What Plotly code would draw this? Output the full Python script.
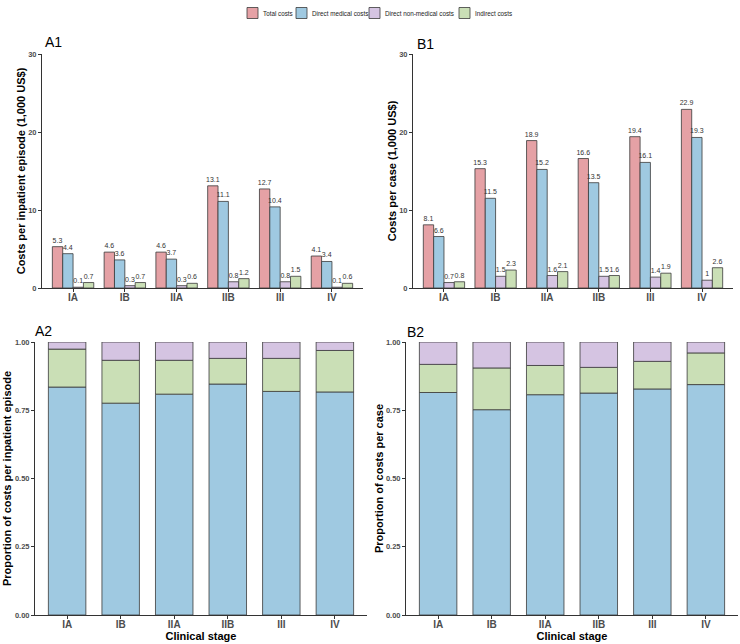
import plotly.graph_objects as go
import numpy as np

# ---------------- data ----------------
stages = ["IA", "IB", "IIA", "IIB", "III", "IV"]
cost_types = ["Total costs", "Direct medical costs", "Direct non-medical costs", "Indirect costs"]

# A1: costs per inpatient episode (1,000 US$)
ep_total = [5.3, 4.6, 4.6, 13.1, 12.7, 4.1]
ep_medical = [4.4, 3.6, 3.7, 11.1, 10.4, 3.4]
ep_nonmedical = [0.1, 0.3, 0.3, 0.8, 0.8, 0.1]
ep_indirect = [0.7, 0.7, 0.6, 1.2, 1.5, 0.6]

# B1: costs per case (1,000 US$)
case_total = [8.1, 15.3, 18.9, 16.6, 19.4, 22.9]
case_medical = [6.6, 11.5, 15.2, 13.5, 16.1, 19.3]
case_nonmedical = [0.7, 1.5, 1.6, 1.5, 1.4, 1.0]
case_indirect = [0.8, 2.3, 2.1, 1.6, 1.9, 2.6]

# A2: proportion of costs per inpatient episode
prop_ep_medical = [0.835, 0.776, 0.809, 0.846, 0.819, 0.817]
prop_ep_indirect = [0.139, 0.157, 0.124, 0.094, 0.121, 0.152]
prop_ep_nonmedical = [0.026, 0.067, 0.067, 0.060, 0.060, 0.031]

# B2: proportion of costs per case
prop_case_medical = [0.815, 0.752, 0.807, 0.813, 0.828, 0.844]
prop_case_indirect = [0.103, 0.153, 0.107, 0.094, 0.101, 0.116]
prop_case_nonmedical = [0.082, 0.095, 0.086, 0.093, 0.071, 0.040]

# ---------------- style ----------------
colors = {
    "Total costs": "#E5A1A5",
    "Direct medical costs": "#9FC9E1",
    "Direct non-medical costs": "#D5C4E2",
    "Indirect costs": "#CADFB6",
}
W, H = 740, 644
FONT = "Liberation Sans, Arial, sans-serif"
LINE = dict(color="#3a3a3a", width=0.8)


def fx(p):
    return p / W


def fy(p):
    return 1 - p / H


fig = go.Figure()

# grouped bars (A1, B1)
bar_w = 0.2
for xa, ya, series in [
    ("x", "y", [ep_total, ep_medical, ep_nonmedical, ep_indirect]),
    ("x2", "y2", [case_total, case_medical, case_nonmedical, case_indirect]),
]:
    for k, (name, vals) in enumerate(zip(cost_types, series)):
        fig.add_trace(go.Bar(
            x=stages, y=vals, name=name, xaxis=xa, yaxis=ya,
            width=bar_w, offset=-0.4 + k * bar_w,
            marker=dict(color=colors[name], line=LINE),
            text=[f"{v:g}" for v in vals], textposition="outside",
            constraintext="none", cliponaxis=False,
            textfont=dict(size=7, color="#333333", family=FONT),
            showlegend=False,
        ))

# stacked proportion bars (A2, B2)
for xa, ya, med, ind, nonmed in [
    ("x3", "y3", prop_ep_medical, prop_ep_indirect, prop_ep_nonmedical),
    ("x4", "y4", prop_case_medical, prop_case_indirect, prop_case_nonmedical),
]:
    med = np.array(med)
    ind = np.array(ind)
    nonmed = np.array(nonmed)
    layers = [
        ("Direct medical costs", med, np.zeros_like(med)),
        ("Indirect costs", ind, med),
        ("Direct non-medical costs", nonmed, med + ind),
    ]
    for name, vals, base in layers:
        fig.add_trace(go.Bar(
            x=stages, y=vals, base=base, name=name, xaxis=xa, yaxis=ya,
            width=0.7, marker=dict(color=colors[name], line=LINE),
            showlegend=False,
        ))

tickfont_x = dict(size=10, color="#4d4d4d", family=FONT, weight="bold")
tickfont_y = dict(size=7.5, color="#4d4d4d", family=FONT, weight="bold")
title_font = dict(size=11, color="#000000", family=FONT, weight="bold")

common_x = dict(type="category", range=[-0.6, 5.6], showline=True, linecolor="#333333",
                linewidth=1, ticks="outside", ticklen=3, tickcolor="#333333",
                ticklabelstandoff=-3,
                tickfont=tickfont_x, showgrid=False, zeroline=False, fixedrange=True)
common_y = dict(showline=True, linecolor="#333333", linewidth=1, ticks="outside",
                ticklen=3, tickcolor="#333333", tickfont=tickfont_y, showgrid=False,
                zeroline=False, fixedrange=True)

top_y = [fy(288), fy(54)]
bot_y = [fy(615), fy(342)]
prop_ticks = [0, 0.25, 0.5, 0.75, 1]
prop_text = ["0.00", "0.25", "0.50", "0.75", "1.00"]

fig.update_layout(
    width=W, height=H, margin=dict(l=0, r=0, t=0, b=0, autoexpand=False),
    paper_bgcolor="white", plot_bgcolor="white",
    barmode="overlay", font=dict(family=FONT), showlegend=False,
    xaxis=dict(common_x, domain=[fx(42), fx(363)], anchor="y"),
    yaxis=dict(common_y, domain=top_y, range=[0, 30], tickvals=[0, 10, 20, 30],
               anchor="x", title=dict(text="Costs per inpatient episode (1,000 US$)",
                                      font=title_font, standoff=0)),
    xaxis2=dict(common_x, domain=[fx(413), fx(733)], anchor="y2"),
    yaxis2=dict(common_y, domain=top_y, range=[0, 30], tickvals=[0, 10, 20, 30],
                anchor="x2", title=dict(text="Costs per case (1,000 US$)",
                                        font=title_font, standoff=0)),
    xaxis3=dict(common_x, domain=[fx(35), fx(367)], anchor="y3",
                title=dict(text="Clinical stage", font=title_font, standoff=1)),
    yaxis3=dict(common_y, domain=bot_y, range=[0, 1], tickvals=prop_ticks, ticktext=prop_text,
                anchor="x3", title=dict(text="Proportion of costs per inpatient episode",
                                        font=title_font, standoff=1)),
    xaxis4=dict(common_x, domain=[fx(406), fx(738)], anchor="y4",
                title=dict(text="Clinical stage", font=title_font, standoff=1)),
    yaxis4=dict(common_y, domain=bot_y, range=[0, 1], tickvals=prop_ticks, ticktext=prop_text,
                anchor="x4", title=dict(text="Proportion of costs per case",
                                        font=title_font, standoff=0)),
)

# panel tags
for label, x, y in [("A1", 43, 42), ("B1", 415, 44), ("A2", 33, 331), ("B2", 405, 332)]:
    fig.add_annotation(text=label, xref="paper", yref="paper", x=fx(x), y=fy(y),
                       xanchor="left", yanchor="middle", showarrow=False,
                       font=dict(size=14, color="#000000", family=FONT))

# legend (top centre): key boxes + labels
legend_box_x = [247, 296, 369, 459]
for name, bx in zip(cost_types, legend_box_x):
    fig.add_shape(type="rect", xref="paper", yref="paper",
                  x0=fx(bx), x1=fx(bx + 11), y0=fy(18.5), y1=fy(7.5),
                  fillcolor=colors[name], line=dict(color="#3a3a3a", width=0.8))
    fig.add_annotation(text=name, xref="paper", yref="paper", x=fx(bx + 14), y=fy(13),
                       xanchor="left", yanchor="middle", showarrow=False,
                       font=dict(size=6.3, color="#222222", family=FONT))

# remove the browser's default 8px page margin so the figure fills the window
fig.write_html("out.html", config={"displayModeBar": False},
               post_script="document.body.style.margin='0px';document.body.style.padding='0px';")
